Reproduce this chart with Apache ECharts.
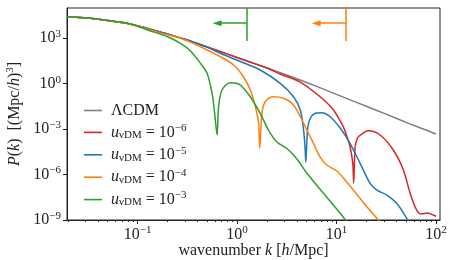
<!DOCTYPE html>
<html><head><meta charset="utf-8">
<script src="https://cdn.jsdelivr.net/npm/echarts@6/dist/echarts.min.js"></script>
<style>html,body{margin:0;padding:0;background:#fff}#c{width:450px;height:260px}</style>
</head><body><div id="c"></div>
<script>
// ---- data (k in h/Mpc, P in (Mpc/h)^3) ----
const cdmK = [0.0195,0.0316,0.0501,0.0794,0.126,0.2,0.316,0.501,0.794,1.26,2.0,3.16,5.01,7.94,12.6,20.0,31.6,50.1,79.4,100];
const cdmP = [2.66e4,2.19e4,1.48e4,9.55e3,4.47e3,1.91e3,776,263,93.3,31.6,11.0,3.72,1.20,0.363,0.107,0.0324,9.77e-3,2.82e-3,8.71e-4,4.79e-4];

const u6K = [0.0195,0.0316,0.0501,0.0794,0.126,0.2,0.316,0.501,0.794,1.26,2.0,2.72,4.32,6.85,9.33,11.7,12.8,13.7,14.6,14.9,15.4,16.0,16.6,20.9,27.5,37.3,47.1,55.0,64.1,71.9,81.5,94.2,100];
const u6P = [2.66e4,2.19e4,1.48e4,9.55e3,4.47e3,1.91e3,776,263,93.3,31.6,11.0,4.37,1.29,0.138,0.0183,1.45e-3,3.02e-4,6.90e-5,5.52e-6,2.76e-7,6.90e-5,1.91e-4,3.15e-4,7.87e-4,4.09e-4,4.18e-5,2.0e-6,6.04e-8,4.55e-9,2.48e-9,2.88e-9,2.13e-9,1.78e-9];

const u5K = [0.0195,0.0316,0.0501,0.0794,0.126,0.2,0.316,0.501,0.679,1.08,1.71,2.72,3.70,4.33,4.67,4.85,4.92,5.12,5.45,6.11,7.13,8.63,10.9,13.7,17.3,21.8,25.5,32.1,40.4,50.9,57.5];
const u5P = [2.66e4,2.19e4,1.48e4,9.55e3,4.47e3,1.91e3,776,263,102,29.2,8.04,1.06,0.138,0.0183,8.75e-4,4.18e-5,6.73e-6,8.75e-4,5.19e-3,0.0111,0.0122,6.61e-3,1.19e-3,1.16e-4,5.52e-6,2.64e-7,9.53e-8,4.46e-8,1.26e-8,1.29e-9,2.94e-10];

const u4K = [0.0195,0.0316,0.0501,0.0794,0.107,0.170,0.270,0.429,0.679,0.925,1.16,1.36,1.53,1.65,1.69,1.78,1.92,2.29,2.94,3.70,4.67,5.87,6.85,8.02,10.1,12.2,14.8,20.2,26.4,30.8];
const u4P = [2.66e4,2.19e4,1.48e4,9.55e3,5.73e3,2.23e3,998,278,60.7,17.2,2.90,0.384,0.0303,2.42e-3,5.66e-5,0.0111,0.0647,0.138,0.109,0.0392,2.42e-3,1.16e-4,1.44e-5,4.27e-6,1.71e-6,4.36e-7,9.53e-8,7.52e-9,1.0e-9,2.94e-10];

const u3K = [0.0195,0.0316,0.0501,0.0849,0.126,0.200,0.270,0.340,0.429,0.500,0.561,0.596,0.630,0.653,0.706,0.857,1.08,1.36,1.71,2.07,2.52,3.18,4.00,5.05,7.40,10.9,13.7];
const u3P = [2.66e4,2.19e4,1.48e4,8.91e3,3.52e3,1.27e3,466,145,22.2,4.86,0.232,0.0111,4.09e-4,0.0303,0.384,1.16,0.820,0.138,0.0111,8.75e-4,1.41e-4,5.25e-5,1.06e-5,1.21e-6,5.77e-8,2.75e-9,3.99e-10];

// free-streaming markers (arrows at top)
const markerK = [1.26, 12.4];      // vertical line position
const markerTipK = [0.63, 6.25];   // arrow tip
const markerArrowP = 1e4;
const markerBottomP = 660;

const seriesNames = ['ΛCDM', 'u6', 'u5', 'u4', 'u3'];
const legendExps = [null, -6, -5, -4, -3];
const xTickExps = [-1, 0, 1, 2];
const yTickExps = [-9, -6, -3, 0, 3];
const xRange = [0.0195, 110];
const yRange = [1e-9, 1e5];

// ---- build ----
const L = Math.log10;
const pts = (k, p) => k.map((v, i) => [L(v), L(p[i])]);
const colors = ['#7f7f7f', '#d62728', '#1f77b4', '#ff7f0e', '#2ca02c'];
const dataSets = [pts(cdmK, cdmP), pts(u6K, u6P), pts(u5K, u5P), pts(u4K, u4P), pts(u3K, u3P)];
const minorX = [];
for (let e = -2; e <= 1; e++) for (let m = 2; m <= 9; m++) {
  const v = m * Math.pow(10, e);
  if (v >= xRange[0] && v <= xRange[1]) minorX.push(L(v));
}
const FONT = 'Liberation Serif';
const FS = 16, FSS = 11;
const minus = n => (n < 0 ? '\u2212' + (-n) : '' + n);
const rich = {
  r: {fontFamily: FONT, fontSize: FS, color: '#222'},
  i: {fontFamily: FONT, fontSize: FS, fontStyle: 'italic', color: '#222'},
  sup: {fontFamily: FONT, fontSize: FSS, color: '#222', padding: [0, 0, 8, 0]},
  sub: {fontFamily: FONT, fontSize: FSS, color: '#222', padding: [6, 0, 0, 0]}
};
const powLabel = v => '{r|10}{sup|' + minus(Math.round(v)) + '}';

function markLineFor(idx) {
  const c = colors[idx === 0 ? 4 : 3];
  return {
    silent: true, animation: false,
    symbol: ['none', 'none'],
    label: {show: false},
    lineStyle: {color: c, width: 1.5, type: 'solid'},
    emphasis: {disabled: true},
    data: [
      [{coord: [L(markerK[idx]), L(yRange[1])]}, {coord: [L(markerK[idx]), L(markerBottomP)]}],
      [{coord: [L(markerK[idx]), L(markerArrowP)]}, {coord: [L(markerTipK[idx]), L(markerArrowP)], symbol: 'triangle', symbolSize: [6, 9]}]
    ]
  };
}

const series = dataSets.map((d, i) => ({
  name: seriesNames[i], type: 'line', data: d, showSymbol: false, symbol: 'none',
  smooth: 0.3, clip: true, animation: false,
  lineStyle: {color: colors[i], width: 1.5}, itemStyle: {color: colors[i]},
  z: 2 + i
}));
series[4].markLine = markLineFor(0);
series[3].markLine = markLineFor(1);

const chart = echarts.init(document.getElementById('c'), null, {renderer: 'canvas'});
chart.setOption({
  backgroundColor: '#fff',
  animation: false,
  grid: {left: 67, right: 10, top: 8, bottom: 40, show: true, borderColor: '#222', borderWidth: 1,
         backgroundColor: 'transparent', containLabel: false, outerBoundsMode: 'none'},
  legend: {
    orient: 'vertical', left: 79, top: 96, itemWidth: 18, itemHeight: 1.6, itemGap: 4.4,
    icon: 'rect',
    data: seriesNames,
    formatter: name => {
      const e = legendExps[seriesNames.indexOf(name)];
      return e === null ? '{r|ΛCDM}{sup| }' : '{i|u}{sub|νDM}{r| = 10}{sup|' + minus(e) + '}';
    },
    textStyle: {rich: rich, padding: [0, 0, 0, 4]}
  },
  xAxis: [{
    type: 'value', min: L(xRange[0]), max: L(xRange[1]),
    name: '{r|wavenumber }{i|k}{r| [}{i|h}{r|/Mpc]}', nameLocation: 'middle', nameGap: 23,
    nameMoveOverlap: false,
    nameTextStyle: {rich: rich, verticalAlign: 'top'},
    axisLine: {show: true, onZero: false, lineStyle: {color: '#222', width: 1}},
    axisTick: {show: true, length: 4, inside: false, customValues: xTickExps, lineStyle: {color: '#222'}},
    axisLabel: {customValues: xTickExps, formatter: powLabel, rich: rich, margin: 5},
    splitLine: {show: false}
  }, {
    type: 'value', min: L(xRange[0]), max: L(xRange[1]), position: 'bottom',
    axisLine: {show: false, onZero: false},
    axisTick: {show: true, length: 2, customValues: minorX, lineStyle: {color: '#222'}},
    axisLabel: {show: false}, splitLine: {show: false}
  }],
  yAxis: {
    type: 'value', min: L(yRange[0]), max: L(yRange[1]),
    name: '{i|P}{r|(}{i|k}{r|)  [(Mpc/}{i|h}{r|)}{sup|3}{r|]}', nameLocation: 'middle', nameRotate: 90, nameGap: 40,
    nameTextStyle: {rich: rich},
    axisLine: {show: true, onZero: false, lineStyle: {color: '#222', width: 1}},
    axisTick: {show: true, length: 4, customValues: yTickExps, lineStyle: {color: '#222'}},
    axisLabel: {customValues: yTickExps, formatter: powLabel, rich: rich, margin: 6},
    splitLine: {show: false}
  },
  series: series
});
</script></body></html>
